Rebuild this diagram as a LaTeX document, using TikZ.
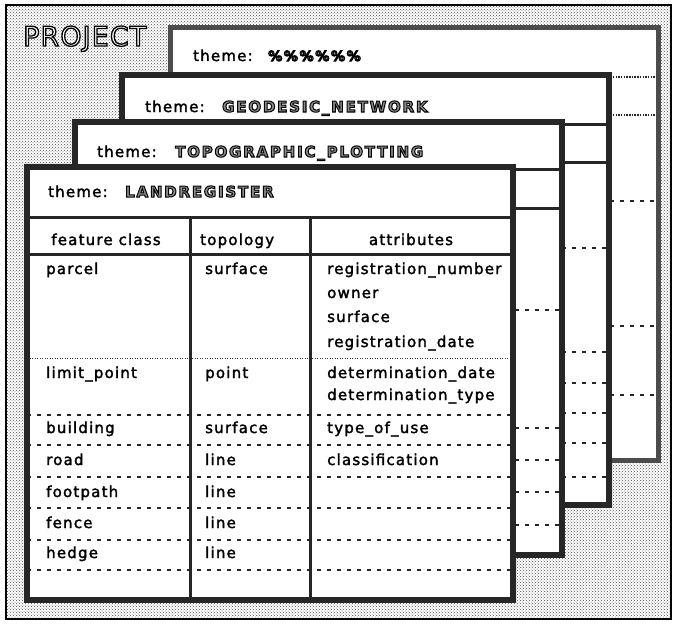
\documentclass[tikz,border=0pt]{standalone}
\usepackage{fontspec}
\setmainfont{DejaVu Sans}
\newfontfamily\bodyf[LetterSpace=8,FakeBold=2]{DejaVu Sans}
\newfontfamily\titlef[LetterSpace=12]{DejaVu Sans Bold}
\newfontfamily\projf[LetterSpace=4]{DejaVu Sans}
\usetikzlibrary{patterns}
\newcommand\outlinetext[1]{\special{pdf:literal direct 2 Tr 1 w 0 G}#1\special{pdf:literal direct 0 Tr}}
\begin{document}
\begin{tikzpicture}[x=1pt,y=-1pt,
  txt/.style={anchor=base west, inner sep=0pt, font=\bodyf\fontsize{15}{18}\selectfont, text=black},
  ctxt/.style={txt, anchor=base},
  ttl/.style={anchor=base west, inner sep=0pt, font=\titlef\fontsize{15}{18}\selectfont, text=black!45},
  framebd/.style={draw=black!85, line width=5.5pt},
  backbd/.style={draw=black!70, line width=5pt},
  solidln/.style={draw=black!85, line width=3pt},
  dashln/.style={draw=black!85, line width=1.8pt, dash pattern=on 4pt off 6pt},
  dotln/.style={draw=black!80, line width=1pt, dash pattern=on 1pt off 1.5pt},
  zigln/.style={draw=black!85, line width=2.2pt, dash pattern=on 1.5pt off 1.2pt},
]
\useasboundingbox (0,0) rectangle (676,623);
\fill[white] (6,5) rectangle (671,619);
\fill[pattern=crosshatch dots, pattern color=black!70] (6,5) rectangle (671,619);
\draw[line width=2.5pt] (6,5) rectangle (671,619);

\node[anchor=base west, inner sep=0pt, font=\projf\fontsize{27}{30}\selectfont, text=white] (proj) at (23,46) {\special{pdf:literal direct 2 Tr 1.3 w 0 G}PROJECT\special{pdf:literal direct 0 Tr}};

% frame 1
\fill[white] (170,28) rectangle (658,460);
\draw[zigln] (170,77) -- (658,77);
\draw[zigln] (170,115) -- (658,115);
\foreach \y in {201,326,395} \draw[dashln] (170,\y) -- (658,\y);
\draw[backbd] (170,28) rectangle (658,460);
\node[txt] (t1) at (193,61) {theme:};
\node[ttl, font=\titlef\fontsize{14}{18}\selectfont] (n1) at (268,61) {\outlinetext{\%\%\%\%\%\%}};

% frame 2
\fill[white] (122,75) rectangle (609,505);
\draw[solidln] (122,124) -- (609,124);
\draw[solidln] (122,162) -- (609,162);
\foreach \y in {248,352,383,413,443,477} \draw[dashln] (122,\y) -- (609,\y);
\draw[framebd] (122,75) rectangle (609,505);
\node[txt] (t2) at (145,112) {theme:};
\node[ttl] (n2) at (222,112) {\outlinetext{GEODESIC\_NETWORK}};

% frame 3
\fill[white] (75,122) rectangle (562,555);
\draw[solidln] (75,169) -- (562,169);
\draw[solidln] (75,208) -- (562,208);
\foreach \y in {310,428,460,492,525} \draw[dashln] (75,\y) -- (562,\y);
\draw[framebd] (75,122) rectangle (562,555);
\node[txt] (t3) at (97,157) {theme:};
\node[ttl] (n3) at (175,157) {\outlinetext{TOPOGRAPHIC\_PLOTTING}};

% frame 4
\fill[white] (27,167) rectangle (513,600);
\draw[dotln] (27,358) -- (513,358);
\foreach \y in {415,445,477,508,540,570} \draw[dashln] (27,\y) -- (513,\y);
\draw[solidln] (27,217) -- (513,217);
\draw[solidln] (27,254) -- (513,254);
\draw[solidln] (190,217) -- (190,600);
\draw[solidln] (310,217) -- (310,600);
\draw[framebd] (27,167) rectangle (513,600);
\node[txt] (t4) at (48,197) {theme:};
\node[ttl] (n4) at (125,197) {\outlinetext{LANDREGISTER}};

\node[ctxt] (h1) at (106,245) {feature class};
\node[txt] (h2) at (200,245) {topology};
\node[ctxt] (h3) at (411,245) {attributes};

\node[txt] (c1) at (46,274) {parcel};
\node[txt] (p1) at (205,274) {surface};
\node[txt] (a1) at (327,274) {registration\_number};
\node[txt] (a2) at (327,298) {owner};
\node[txt] (a3) at (327,322) {surface};
\node[txt] (a4) at (327,347) {registration\_date};

\node[txt] (c2) at (46,378) {limit\_point};
\node[txt] (p2) at (205,378) {point};
\node[txt] (a5) at (327,378) {determination\_date};
\node[txt] (a6) at (327,400) {determination\_type};

\node[txt] (c3) at (46,433) {building};
\node[txt] (p3) at (205,433) {surface};
\node[txt] (a7) at (327,433) {type\_of\_use};

\node[txt] (c4) at (46,465) {road};
\node[txt] (p4) at (205,465) {line};
\node[txt] (a8) at (327,465) {classification};

\node[txt] (c5) at (46,497) {footpath};
\node[txt] (p5) at (205,497) {line};

\node[txt] (c6) at (46,528) {fence};
\node[txt] (p6) at (205,528) {line};

\node[txt] (c7) at (46,558) {hedge};
\node[txt] (p7) at (205,558) {line};
\end{tikzpicture}
\end{document}
